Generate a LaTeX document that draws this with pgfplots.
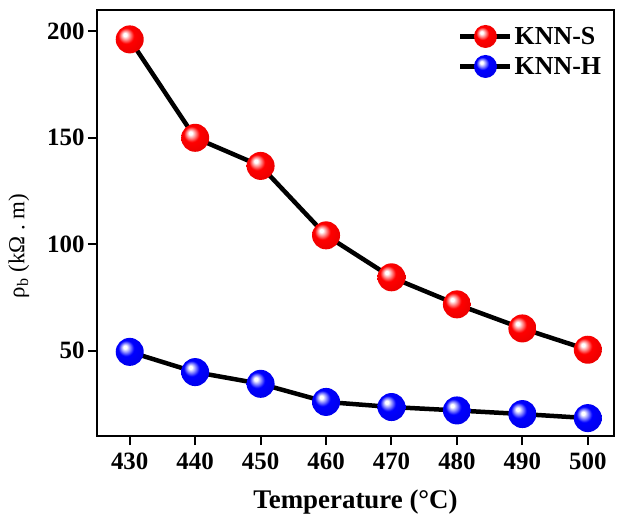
\documentclass[border=0pt]{standalone}
\usepackage{fontspec}
\setmainfont{Liberation Serif}
\usepackage{pgfplots}
\usepackage{pgfplotstable}
\pgfplotsset{compat=1.18}
\pgfdeclareradialshading{redball}{\pgfpoint{-9bp}{9bp}}{color(0bp)=(white); color(3bp)=(white); color(8bp)=(red!45!white); color(14bp)=(red); color(30bp)=(red!92!black); color(34bp)=(red!75!black); color(50bp)=(red!75!black)}
\pgfdeclareradialshading{blueball}{\pgfpoint{-9bp}{9bp}}{color(0bp)=(white); color(3bp)=(white); color(8bp)=(blue!45!white); color(14bp)=(blue); color(30bp)=(blue!92!black); color(34bp)=(blue!75!black); color(50bp)=(blue!75!black)}
\pgfdeclareplotmark{redball}{\pgfpathcircle{\pgfpointorigin}{\pgfplotmarksize}\pgfshadepath{redball}{0}\pgfusepath{}}
\pgfdeclareplotmark{blueball}{\pgfpathcircle{\pgfpointorigin}{\pgfplotmarksize}\pgfshadepath{blueball}{0}\pgfusepath{}}
\pgfplotstableread{
x y
430 196.2
440 150
450 136.8
460 104.2
470 84.5
480 71.8
490 60.5
500 50.5
}\knns
\pgfplotstableread{
x y
430 49.5
440 40
450 34.5
460 26
470 23.6
480 22
490 20.3
500 18.4
}\knnh
\begin{document}
\begin{tikzpicture}
\begin{axis}[
  at={(0,0)}, anchor=south west,
  scale only axis, width=517bp, height=426bp,
  xmin=425, xmax=504, ymin=10, ymax=210,
  xtick={430,440,...,500}, ytick={50,100,150,200},
  tick align=outside, xtick pos=left, ytick pos=left,
  major tick length=9bp,
  axis line style={line width=2.2bp},
  every tick/.style={black, line width=2bp},
  /pgf/number format/assume math mode=true,
  tick label style={font=\bfseries\fontsize{25}{28}\selectfont},
  xticklabel style={yshift=-4bp},
  xlabel={\bfseries Temperature (°C)},
  xlabel style={font=\fontsize{27}{30}\selectfont, yshift=-14bp},
  ylabel={ρ\textsubscript{b} (kΩ . m)},
  ylabel style={font=\fontsize{23}{26}\selectfont, at={(axis description cs:-0.151,0.446)}, anchor=center},
  legend style={draw=none, fill=none, at={(0.985,0.97)}, anchor=north east,
    font=\bfseries\fontsize{26}{28}\selectfont, row sep=7bp, cells={anchor=west}},
]
\addplot[black, line width=4.5bp, forget plot] table {\knns};
\addplot[only marks, mark=redball, mark size=14bp, forget plot] table {\knns};
\addplot[black, line width=4.5bp, forget plot] table {\knnh};
\addplot[only marks, mark=blueball, mark size=14bp, forget plot] table {\knnh};
\addlegendimage{legend image code/.code={\draw[black,line width=4.5bp] (0bp,0bp)--(50bp,0bp); \pgftransformshift{\pgfpoint{25bp}{0bp}}\pgfsetplotmarksize{11.5bp}\pgfuseplotmark{redball}}}
\addlegendentry{KNN-S}
\addlegendimage{legend image code/.code={\draw[black,line width=4.5bp] (0bp,0bp)--(50bp,0bp); \pgftransformshift{\pgfpoint{25bp}{0bp}}\pgfsetplotmarksize{11.5bp}\pgfuseplotmark{blueball}}}
\addlegendentry{KNN-H}
\end{axis}
\pgfresetboundingbox
\path[use as bounding box] (-97bp,-82bp) rectangle (520bp,436bp);
\end{tikzpicture}
\end{document}
